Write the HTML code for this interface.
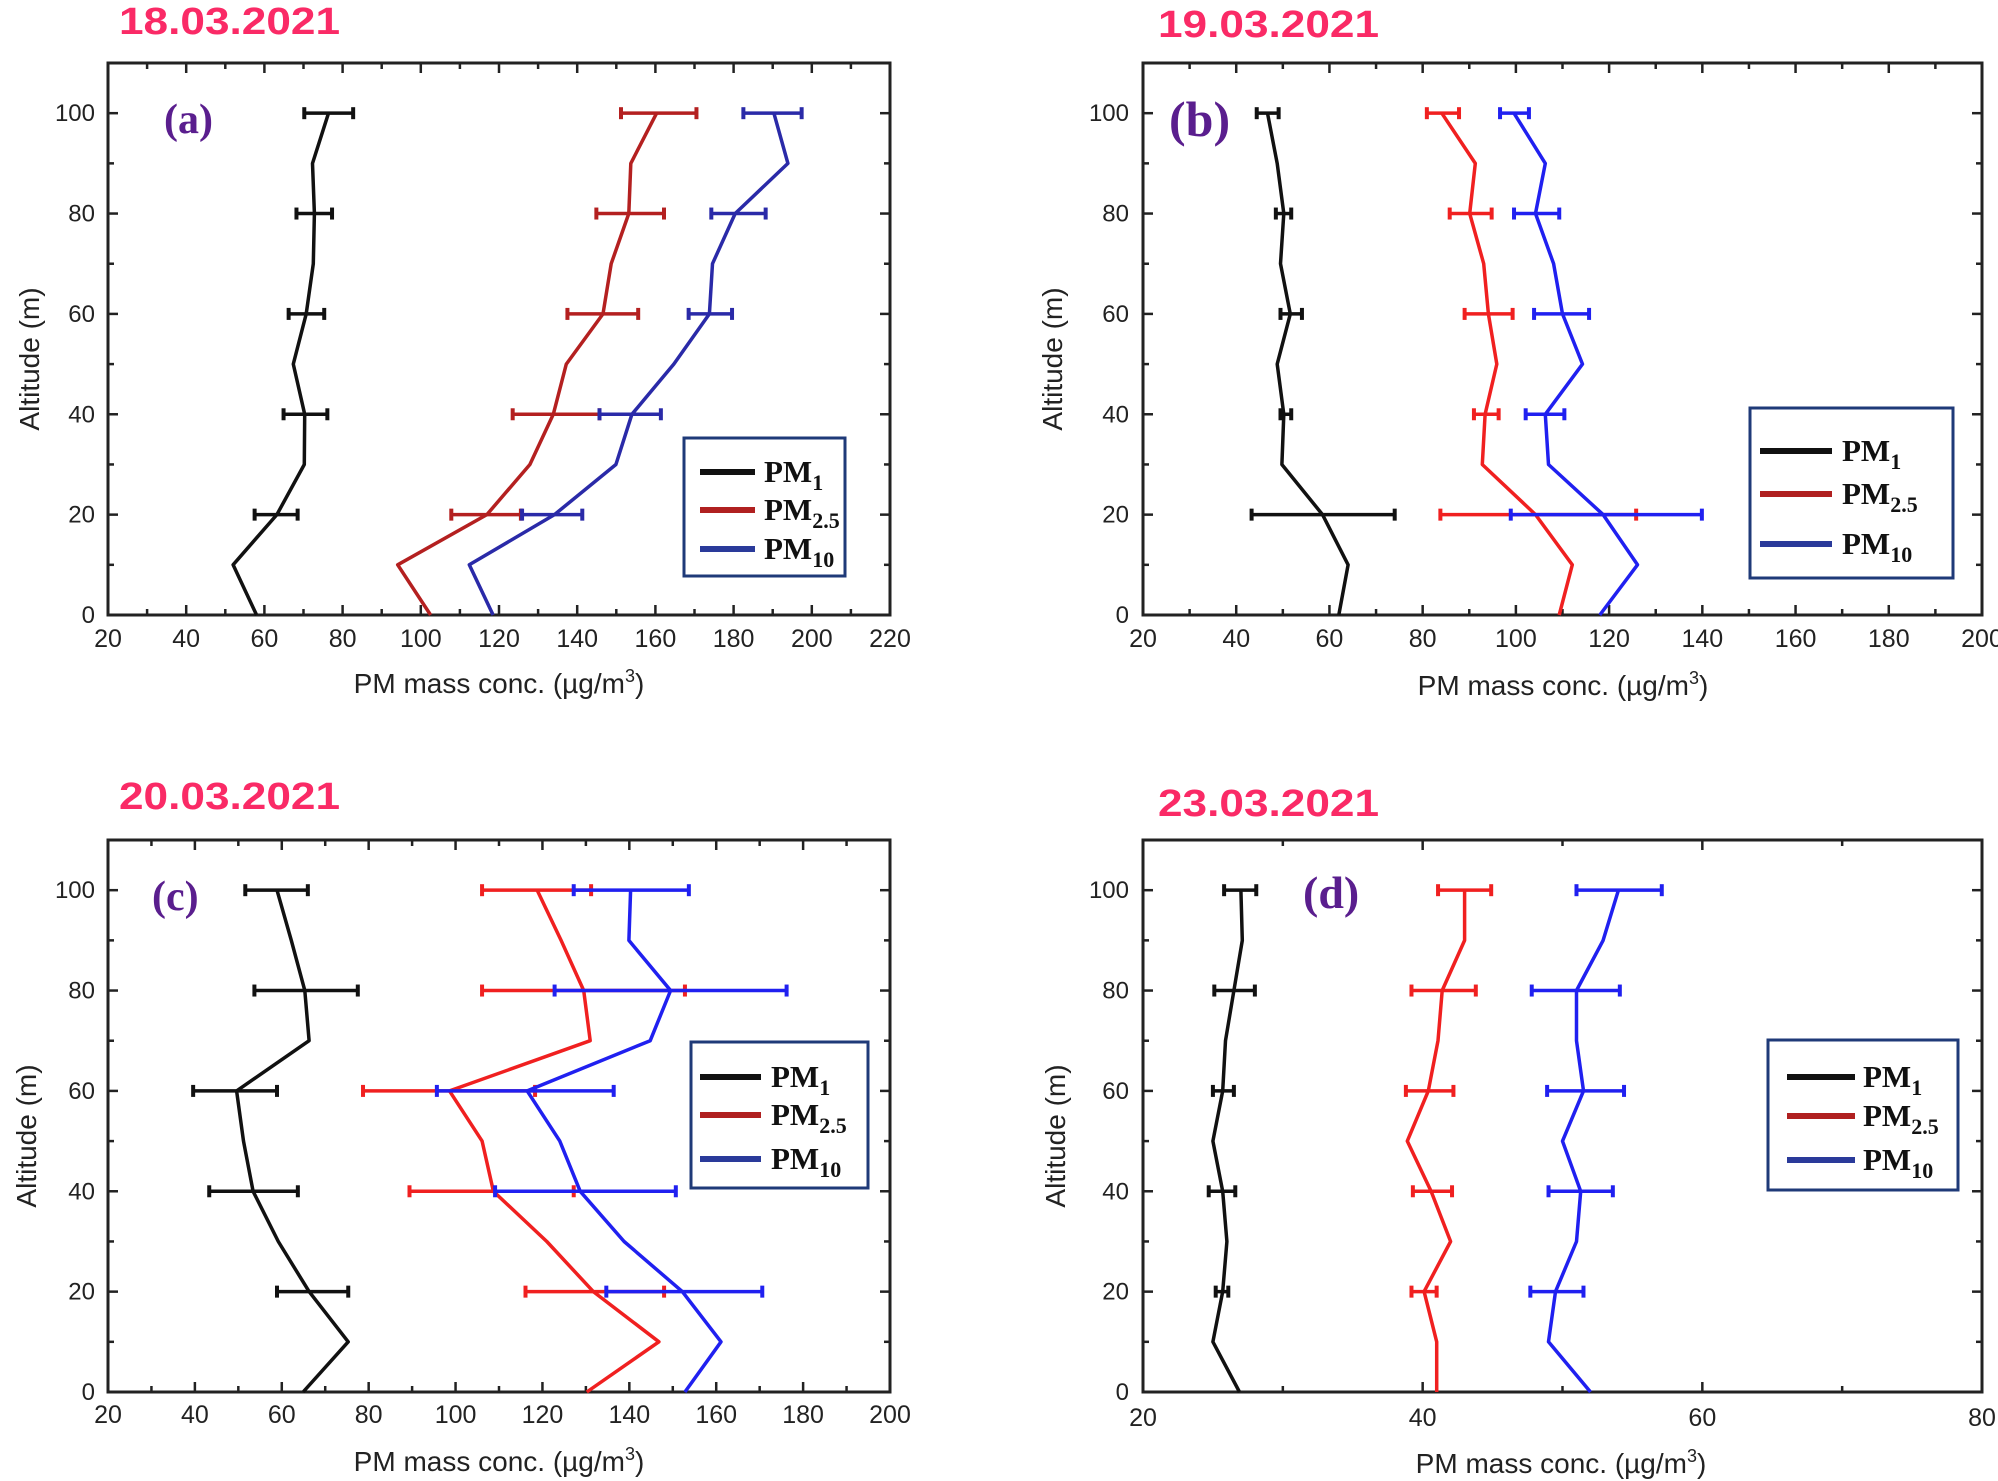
<!DOCTYPE html>
<html><head><meta charset="utf-8"><style>
html,body{margin:0;padding:0;background:#fff}
svg{display:block}
</style></head><body>
<svg id="s" width="1998" height="1481" viewBox="0 0 1998 1481" xmlns="http://www.w3.org/2000/svg"></svg>
<script>
const S=document.getElementById('s');let h='';
const P=[
{L:108,R:890,T:63,B:615,x0:20,x1:220,xs:20,lab:'(a)',lx:164,ly:133,lf:42,date:'18.03.2021',dx:119,dy:34,
 ylr:95,xly:647,xtx:499,xty:693,ytx:29,
 leg:[684,438,845,576,700,755,[472,510,549],764],cols:['#111','#b42020','#2a2aa8'],
 d:[
 [[76.4,72.3,72.8,72.5,70.7,67.4,70.3,70.2,63.2,52,58],{100:[70.2,82.7],80:[68.2,77.3],60:[66.2,75.3],40:[64.9,76.1],20:[57.5,68.5]}],
 [[160.3,153.7,153.2,148.7,146.6,137.2,133.9,127.9,116.9,94.1,102.5],{100:[151.2,170.5],80:[144.9,162.2],60:[137.5,155.6],40:[123.5,145.7],20:[107.8,125.6]}],
 [[190.3,193.9,180.4,174.6,173.8,164.7,154,149.9,134.2,112.4,118.5],{100:[182.5,197.4],80:[174.3,188.2],60:[168.5,179.6],40:[145.7,161.4],20:[125.9,141.3]}]]},
{L:1143,R:1982,T:63,B:615,x0:20,x1:200,xs:20,lab:'(b)',lx:1169,ly:136,lf:50,date:'19.03.2021',dx:1158,dy:37,
 ylr:1129,xly:647,xtx:1563,xty:695,ytx:1052,
 leg:[1750,408,1953,578,1760,1832,[451,494,544],1842],cols:['#111','#f02020','#2020f0'],
 d:[
 [[46.7,48.8,50.2,49.5,51.6,48.8,50.2,49.8,58.5,64,62],{100:[44.4,49.1],80:[48.5,51.8],60:[49.5,54.1],40:[49.5,51.8],20:[43.3,74]}],
 [[84.1,91.3,90.1,93.1,94.1,95.9,93.4,92.8,104.2,112.1,109.3],{100:[80.9,87.8],80:[85.8,94.8],60:[89,99.3],40:[91,96.3],20:[83.8,125.8]}],
 [[99.6,106.3,104.2,108.1,110,114.3,106.3,107,118.7,126.1,118],{100:[96.6,102.8],80:[99.6,109.3],60:[103.9,115.7],40:[102.1,110.4],20:[98.9,139.9]}]]},
{L:108,R:890,T:840,B:1392,x0:20,x1:200,xs:20,lab:'(c)',lx:152,ly:910,lf:42,date:'20.03.2021',dx:119,dy:809,
 ylr:95,xly:1423,xtx:499,xty:1471,ytx:26,
 leg:[691,1042,868,1188,700,761,[1077,1115,1159],771],cols:['#111','#f02020','#2020f0'],
 d:[
 [[58.9,62.2,65.3,66.3,49.6,51.2,53.4,59.2,66.3,75.3,64.9],{100:[51.6,66],80:[53.7,77.5],60:[39.6,58.9],40:[43.3,63.7],20:[58.9,75.3]}],
 [[118.8,124.3,129.5,131,98.6,106.1,108.7,121,131.7,146.8,130.2],{100:[106.1,131.2],80:[106.1,152.8],60:[78.7,118.3],40:[89.4,127.2],20:[116.1,148]}],
 [[140.3,139.9,149.5,144.8,116.5,124,128.7,138.8,152.2,161.1,152.8],{100:[127.2,153.7],80:[122.8,176.2],60:[95.7,136.4],40:[109.1,150.7],20:[134.7,170.6]}]]},
{L:1143,R:1982,T:840,B:1392,x0:20,x1:80,xs:20,minor:10,lab:'(d)',lx:1303,ly:908,lf:46,date:'23.03.2021',dx:1158,dy:816,
 ylr:1129,xly:1426,xtx:1561,xty:1473,ytx:1055,
 leg:[1768,1040,1958,1190,1787,1855,[1077,1116,1160],1863],cols:['#111','#f02020','#2020f0'],
 d:[
 [[27,27.1,26.5,25.9,25.7,25,25.7,26,25.7,25,26.9],{100:[25.8,28.1],80:[25.1,28],60:[25,26.5],40:[24.7,26.6],20:[25.2,26.1]}],
 [[43,43,41.4,41.1,40.4,38.9,40.6,42,40.1,41,41],{100:[41.1,44.9],80:[39.2,43.8],60:[38.8,42.2],40:[39.3,42.1],20:[39.2,41]}],
 [[54,52.9,51,51,51.5,50,51.3,51,49.5,49,52],{100:[51,57.1],80:[47.8,54.1],60:[48.9,54.4],40:[49,53.6],20:[47.7,51.5]}]]}
];
const legCols=['#111','#b02020','#2a3a9a'];
for(const p of P){
 const X=v=>p.L+(v-p.x0)/(p.x1-p.x0)*(p.R-p.L);
 const Y=a=>p.B-(a)/110*(p.B-p.T);
 h+=`<text x="${p.dx}" y="${p.dy}" font-family="Liberation Sans,sans-serif" font-weight="bold" font-size="38" fill="#fa2a66" textLength="221" lengthAdjust="spacingAndGlyphs">${p.date}</text>`;
 h+=`<rect x="${p.L}" y="${p.T}" width="${p.R-p.L}" height="${p.B-p.T}" fill="none" stroke="#222" stroke-width="3"/>`;
 const mstep=p.minor||10;
 for(let v=p.x0;v<=p.x1+1e-6;v+=mstep){
  const x=X(v);const maj=Math.abs((v-p.x0)%p.xs)<1e-6;const l=maj?10:6;
  h+=`<line x1="${x}" y1="${p.B}" x2="${x}" y2="${p.B-l}" stroke="#222" stroke-width="2.5"/><line x1="${x}" y1="${p.T}" x2="${x}" y2="${p.T+l}" stroke="#222" stroke-width="2.5"/>`;
  if(maj)h+=`<text x="${x}" y="${p.xly}" text-anchor="middle" font-family="Liberation Sans,sans-serif" font-size="25" fill="#222">${v}</text>`;
 }
 for(let a=0;a<=110;a+=10){
  const y=Y(a);const maj=a%20==0&&a<=100;const l=maj?10:6;
  h+=`<line x1="${p.L}" y1="${y}" x2="${p.L+l}" y2="${y}" stroke="#222" stroke-width="2.5"/><line x1="${p.R}" y1="${y}" x2="${p.R-l}" y2="${y}" stroke="#222" stroke-width="2.5"/>`;
  if(maj)h+=`<text x="${p.ylr}" y="${y+8}" text-anchor="end" font-family="Liberation Sans,sans-serif" font-size="24" fill="#222">${a}</text>`;
 }
 h+=`<text x="${p.xtx}" y="${p.xty}" text-anchor="middle" font-family="Liberation Sans,sans-serif" font-size="28" fill="#222">PM mass conc. (µg/m<tspan dy="-11" font-size="18">3</tspan><tspan dy="11">)</tspan></text>`;
 h+=`<text transform="translate(${p.ytx+10},${(p.T+p.B)/2+20}) rotate(-90)" text-anchor="middle" font-family="Liberation Sans,sans-serif" font-size="28" fill="#222">Altitude (m)</text>`;
 h+=`<text x="${p.lx}" y="${p.ly}" font-family="Liberation Serif,serif" font-weight="bold" font-size="${p.lf}" fill="#5a1e8e">${p.lab}</text>`;
 p.d.forEach((s,i)=>{
  const c=p.cols[i];
  const pts=s[0].map((v,k)=>X(v).toFixed(1)+','+Y(100-k*10).toFixed(1)).join(' ');
  h+=`<polyline points="${pts}" fill="none" stroke="${c}" stroke-width="3.5" stroke-linejoin="round"/>`;
  for(const a in s[1]){const [lo,hi]=s[1][a];const y=Y(+a);
   h+=`<line x1="${X(lo)}" y1="${y}" x2="${X(hi)}" y2="${y}" stroke="${c}" stroke-width="3.5"/>`;
   h+=`<line x1="${X(lo)}" y1="${y-6}" x2="${X(lo)}" y2="${y+6}" stroke="${c}" stroke-width="4"/><line x1="${X(hi)}" y1="${y-6}" x2="${X(hi)}" y2="${y+6}" stroke="${c}" stroke-width="4"/>`;
  }
 });
 const g=p.leg;
 h+=`<rect x="${g[0]}" y="${g[1]}" width="${g[2]-g[0]}" height="${g[3]-g[1]}" fill="#fff" stroke="#1f3a78" stroke-width="3"/>`;
 const subs=['1','2.5','10'];
 g[6].forEach((y,i)=>{
  h+=`<line x1="${g[4]}" y1="${y}" x2="${g[5]}" y2="${y}" stroke="${legCols[i]}" stroke-width="6"/>`;
  h+=`<text x="${g[7]}" y="${y+10}" font-family="Liberation Serif,serif" font-weight="bold" font-size="31" fill="#111">PM<tspan dy="8" font-size="22">${subs[i]}</tspan></text>`;
 });
}
S.innerHTML=h;
</script>
</body></html>
